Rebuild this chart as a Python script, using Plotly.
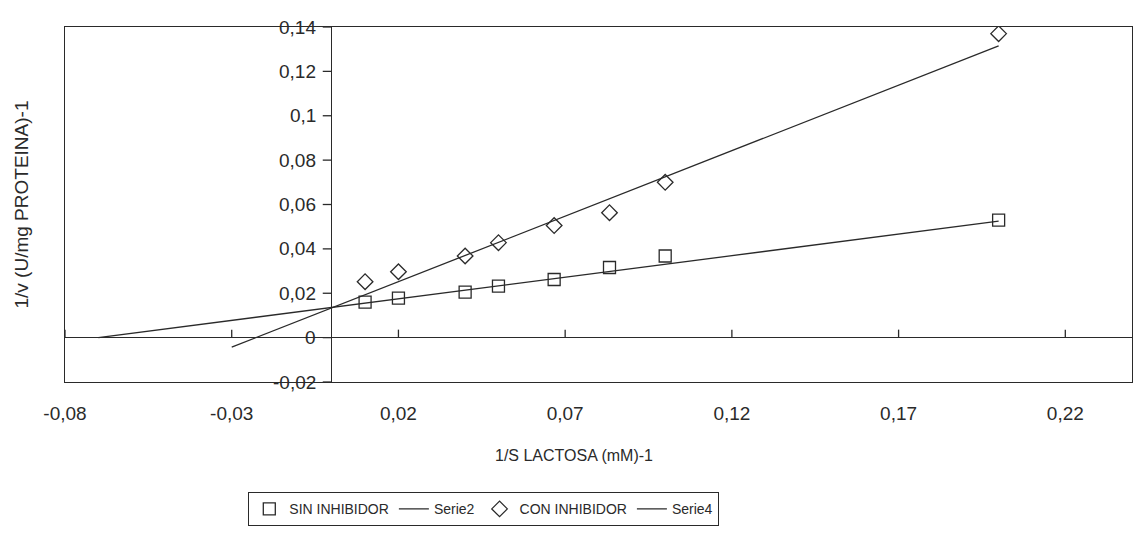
import plotly.graph_objects as go

# ---- data ----
x_sin = [0.01, 0.02, 0.04, 0.05, 0.0667, 0.0833, 0.1, 0.2]
y_sin = [0.0160, 0.0178, 0.0205, 0.0232, 0.0262, 0.0316, 0.0368, 0.0530]

x_con = [0.01, 0.02, 0.04, 0.05, 0.0667, 0.0833, 0.1, 0.2]
y_con = [0.0252, 0.0297, 0.0368, 0.0428, 0.0505, 0.0563, 0.0700, 0.1370]

serie2_x = [-0.07, 0.2]
serie2_y = [0.0, 0.0525]
serie4_x = [-0.03, 0.2]
serie4_y = [-0.0043, 0.1315]

x_ticks = [-0.08, -0.03, 0.02, 0.07, 0.12, 0.17, 0.22]
x_tick_text = ["-0,08", "-0,03", "0,02", "0,07", "0,12", "0,17", "0,22"]
y_ticks = [-0.02, 0, 0.02, 0.04, 0.06, 0.08, 0.1, 0.12, 0.14]
y_tick_text = ["-0,02", "0", "0,02", "0,04", "0,06", "0,08", "0,1", "0,12", "0,14"]

INK = "#2a2a2a"
FONT = "Liberation Sans, Arial, sans-serif"

# target plot area on the page (pixels)
PL, PT, PW, PH = 65, 27, 1067, 355
PB = PT + PH

fig = go.Figure()
fig.add_trace(go.Scatter(x=x_sin, y=y_sin, mode="markers", name="SIN INHIBIDOR",
                         marker=dict(symbol="square-open", size=12, color=INK, line=dict(width=1.3))))
fig.add_trace(go.Scatter(x=serie2_x, y=serie2_y, mode="lines", name="Serie2",
                         line=dict(color=INK, width=1.3)))
fig.add_trace(go.Scatter(x=x_con, y=y_con, mode="markers", name="CON INHIBIDOR",
                         marker=dict(symbol="diamond-open", size=12, color=INK, line=dict(width=1.3))))
fig.add_trace(go.Scatter(x=serie4_x, y=serie4_y, mode="lines", name="Serie4",
                         line=dict(color=INK, width=1.3)))

shapes = []
# x tick marks on the y=0 axis line, pointing up
for t in x_ticks:
    shapes.append(dict(type="line", xref="x", yref="y", x0=t, x1=t,
                       ysizemode="pixel", yanchor=0, y0=0, y1=8,
                       line=dict(color=INK, width=1.3)))
# y tick marks on the x=0 axis line, pointing left
for t in y_ticks:
    shapes.append(dict(type="line", xref="x", yref="y", y0=t, y1=t,
                       xsizemode="pixel", xanchor=0, x0=-9, x1=0,
                       line=dict(color=INK, width=1.3)))

annotations = []
for t, s in zip(y_ticks, y_tick_text):
    annotations.append(dict(x=0, y=t, xref="x", yref="y", text=s, showarrow=False,
                            xanchor="right", yanchor="middle", xshift=-14,
                            font=dict(family=FONT, size=19, color=INK)))
annotations.append(dict(x=(21 - PL) / PW, y=0.5, xref="paper", yref="paper",
                        text="1/v (U/mg PROTEINA)-1", textangle=-90, showarrow=False,
                        xanchor="center", yanchor="middle",
                        font=dict(family=FONT, size=19, color=INK)))
annotations.append(dict(x=(574 - PL) / PW, y=(PB - 455) / PH, xref="paper", yref="paper",
                        text="1/S LACTOSA (mM)-1", showarrow=False,
                        xanchor="center", yanchor="middle",
                        font=dict(family=FONT, size=16, color=INK)))

# page body has an 8px margin: compensate so the plot area lands at PL/PT
OFF = 8
W, H = 1144, 542
fig.update_layout(
    width=W, height=H,
    margin=dict(l=PL - OFF, t=PT - OFF, r=W - (PL - OFF) - PW, b=H - (PT - OFF) - PH,
                autoexpand=False),
    paper_bgcolor="white", plot_bgcolor="white",
    showlegend=True,
    legend=dict(orientation="h", x=(248 - PL) / PW, y=(PB - 492) / PH,
                xanchor="left", yanchor="top",
                bordercolor=INK, borderwidth=1.3, bgcolor="white",
                font=dict(family=FONT, size=14, color=INK),
                itemwidth=30, tracegroupgap=0),
    shapes=shapes,
    annotations=annotations,
)
fig.update_xaxes(range=[-0.08, 0.24], showgrid=False,
                 showline=True, mirror=True, linecolor=INK, linewidth=1.3,
                 zeroline=True, zerolinecolor=INK, zerolinewidth=1.3,
                 tickmode="array", tickvals=x_ticks, ticktext=x_tick_text,
                 ticks="outside", ticklen=14, tickcolor="rgba(0,0,0,0)",
                 tickfont=dict(family=FONT, size=19, color=INK))
fig.update_yaxes(range=[-0.02, 0.14], showgrid=False,
                 showline=True, mirror=True, linecolor=INK, linewidth=1.3,
                 zeroline=True, zerolinecolor=INK, zerolinewidth=1.3,
                 showticklabels=False, ticks="")

fig.write_html("out.html")
